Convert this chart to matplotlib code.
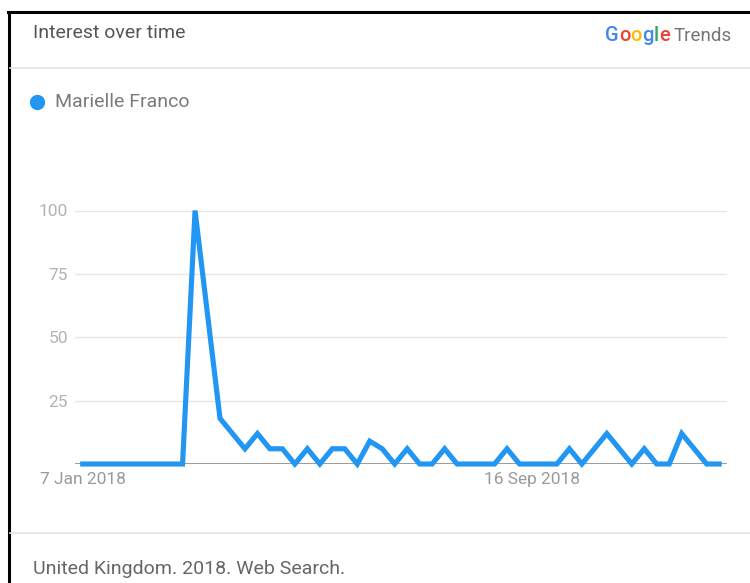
import matplotlib
matplotlib.use("Agg")
import matplotlib.pyplot as plt
from matplotlib.lines import Line2D

plt.rcParams['font.family'] = ['Roboto', 'DejaVu Sans']

# Weekly search interest for 2018 (index 0 = week of 7 Jan 2018)
series_name = "Marielle Franco"
weeks = list(range(52))
interest = [0, 0, 0, 0, 0, 0, 0, 0, 0, 100,
            59, 18, 12, 6, 12, 6, 6, 0, 6, 0,
            6, 6, 0, 9, 6, 0, 6, 0, 0, 6,
            0, 0, 0, 0, 6, 0, 0, 0, 0, 6,
            0, 6, 12, 6, 0, 6, 0, 0, 12, 6,
            0, 0]
y_ticks = [0, 25, 50, 75, 100]
x_tick_pos = [0, 36]
x_tick_labels = ["7 Jan 2018", "16 Sep 2018"]

W, H = 750, 583
fig = plt.figure(figsize=(W / 100, H / 100), dpi=100)
fig.patch.set_facecolor("white")


def fx(px):
    return px / W


def fy(py):
    return 1 - py / H


# Card frame (left and top edges) and section separators
fig.add_artist(Line2D([fx(9), fx(9)], [fy(12), 0], color="black", lw=2.2))
fig.add_artist(Line2D([fx(8), 1], [fy(12), fy(12)], color="black", lw=2.2))
fig.add_artist(Line2D([fx(10), 1], [fy(68), fy(68)], color="#e3e3e3", lw=1.2))
fig.add_artist(Line2D([fx(10), 1], [fy(533), fy(533)], color="#e3e3e3", lw=1.2))

# Header
fig.text(fx(33), fy(33), "Interest over time", fontsize=14, color="#555555",
         ha="left", va="center")

ax = fig.add_axes([fx(75), fy(464), fx(727) - fx(75), fy(210.5) - fy(464)])

# Google Trends wordmark, letter by letter
logo_parts = [("G", "#4285F4"), ("o", "#EA4335"), ("o", "#FBBC05"),
              ("g", "#4285F4"), ("l", "#34A853"), ("e", "#EA4335")]
chain = fig.text(fx(605), fy(41), logo_parts[0][0], fontsize=14.5,
                 color=logo_parts[0][1], ha="left", va="baseline",
                 fontweight="medium")
for ch, col in logo_parts[1:]:
    chain = ax.annotate(ch, xy=(1, 0), xycoords=chain, xytext=(0.2, 0),
                        textcoords="offset points", fontsize=14.5, color=col,
                        ha="left", va="bottom", fontweight="medium",
                        annotation_clip=False)
ax.annotate("Trends", xy=(1, 0), xycoords=chain, xytext=(2.5, 0),
            textcoords="offset points", fontsize=13.5, color="#757575",
            ha="left", va="bottom", annotation_clip=False)

# Legend entry
fig.add_artist(Line2D([fx(37)], [fy(102)], marker="o", markersize=10,
                      color="#2196F3", linestyle="none"))
fig.text(fx(55), fy(102), series_name, fontsize=14, color="#7a7a7a",
         ha="left", va="center")

# Chart
ax.plot(weeks, interest, color="#2196F3", lw=3.7, solid_joinstyle="miter",
        clip_on=False, zorder=3)
ax.set_xlim(-0.62, 51.63)
ax.set_ylim(0, 100)
for v in y_ticks[1:]:
    ax.axhline(v, color="#e6e6e6", lw=1.0, zorder=1)
ax.axhline(0, color="#8a8a8a", lw=1.2, zorder=2)

for s in ax.spines.values():
    s.set_visible(False)
ax.set_yticks(y_ticks[1:])
ax.set_yticklabels([str(v) for v in y_ticks[1:]])
ax.tick_params(axis="y", length=0, pad=5, labelsize=12.5, labelcolor="#b3b3b3")
ax.set_xticks(x_tick_pos)
ax.set_xticklabels(x_tick_labels)
ax.tick_params(axis="x", length=0, pad=6, labelsize=12.5, labelcolor="#9a9a9a")
ax.patch.set_alpha(0)

# Footer
fig.text(fx(33), fy(569), "United Kingdom. 2018. Web Search.", fontsize=14,
         color="#666666", ha="left", va="center")

fig.savefig("out.png", dpi=100, facecolor="white")
